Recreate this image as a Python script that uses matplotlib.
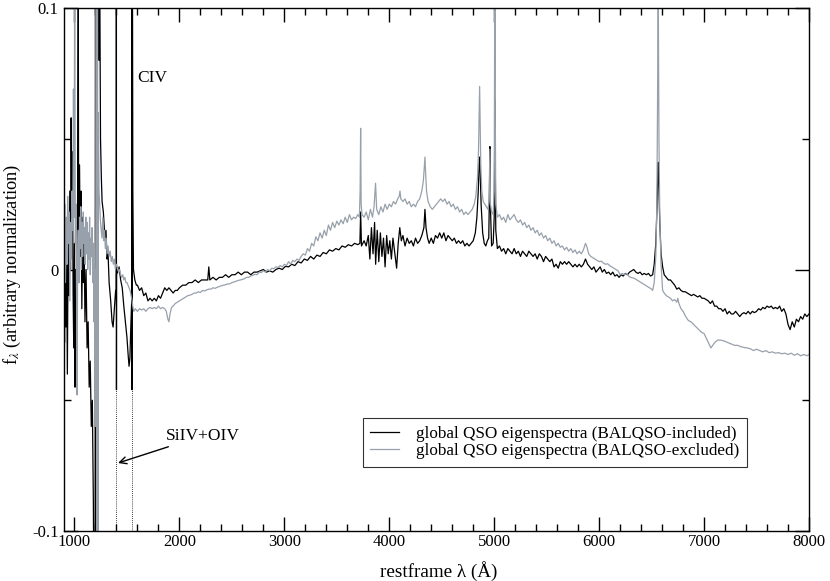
import matplotlib
matplotlib.use("Agg")
import matplotlib.pyplot as plt
from matplotlib.ticker import MultipleLocator

plt.rcParams['font.family'] = ['Liberation Serif', 'DejaVu Serif']
plt.rcParams['mathtext.fontset'] = 'stix'
plt.rcParams['axes.unicode_minus'] = False

# ---------------- data ----------------
wl_incl = [900, 905, 912, 918, 925, 932, 940, 948, 955, 962, 968, 974, 980, 987, 993, 1000,
           1005, 1012, 1020, 1030, 1036, 1040, 1048, 1055, 1062, 1070, 1078, 1085, 1092, 1100,
           1110, 1120, 1130, 1140, 1150, 1160, 1170, 1180, 1188, 1195, 1200, 1207, 1214, 1222,
           1228, 1234, 1240, 1248, 1256, 1263, 1275, 1290, 1300, 1310, 1320, 1330, 1345, 1358,
           1368, 1380, 1392, 1398, 1399, 1400, 1401, 1425, 1440, 1455, 1470, 1485, 1500, 1512,
           1520, 1528, 1538, 1547, 1548.5, 1549, 1551, 1556, 1562, 1575, 1590,
           1600, 1620, 1640, 1660, 1680, 1700, 1720, 1740, 1760, 1780, 1800, 1820, 1840, 1860,
           1880, 1900, 1920, 1940, 1960, 1980, 2000, 2030, 2060, 2090, 2120, 2150, 2180, 2210,
           2240, 2270, 2280, 2290, 2320, 2350, 2380, 2410, 2440, 2470, 2500, 2530, 2560, 2590,
           2620, 2650, 2680, 2710, 2740, 2770, 2800, 2830, 2860, 2890, 2920, 2950, 2980, 3010,
           3040, 3070, 3100, 3130, 3160, 3190, 3220, 3250, 3280, 3310, 3340, 3370, 3400, 3430,
           3460, 3490, 3520, 3550, 3580, 3610, 3640, 3670, 3700, 3720, 3727, 3735, 3760, 3780,
           3800, 3815, 3830, 3845, 3860, 3870, 3885, 3900, 3915, 3930, 3945, 3960, 3975, 3990,
           4005, 4020, 4035, 4050, 4070, 4085, 4100, 4115, 4130, 4150, 4170, 4190, 4210, 4230,
           4250, 4270, 4290, 4310, 4330, 4340, 4350, 4365, 4380, 4400, 4420, 4440, 4460, 4480,
           4500, 4520, 4540, 4560, 4580, 4600, 4620, 4640, 4660, 4680, 4700, 4720, 4740, 4760,
           4780, 4800, 4820, 4835, 4848, 4856, 4861, 4866, 4875, 4890, 4905, 4920, 4935, 4948,
           4955, 4959, 4963, 4975, 4990, 5000, 5004, 5007, 5010, 5015, 5030, 5050, 5070, 5090,
           5110, 5130, 5150, 5170, 5190, 5210, 5230, 5250, 5270, 5290, 5310, 5330, 5350, 5370,
           5390, 5410, 5430, 5450, 5470, 5490, 5510, 5530, 5550, 5570, 5590, 5610, 5630, 5650,
           5670, 5690, 5710, 5730, 5750, 5770, 5790, 5810, 5830, 5850, 5870, 5890, 5910, 5930,
           5950, 5970, 5990, 6010, 6030, 6050, 6070, 6090, 6110, 6130, 6150, 6170, 6190, 6210,
           6230, 6250, 6270, 6290, 6310, 6330, 6350, 6370, 6390, 6410, 6430, 6450, 6470, 6490,
           6510, 6525, 6540, 6550, 6558, 6563, 6568, 6578, 6590, 6605, 6620, 6640, 6660, 6680,
           6700, 6720, 6740, 6760, 6780, 6800, 6820, 6840, 6860, 6880, 6900, 6920, 6940, 6960,
           6980, 7000, 7020, 7040, 7060, 7080, 7100, 7120, 7140, 7160, 7180, 7200, 7220, 7240,
           7260, 7280, 7300, 7320, 7340, 7360, 7380, 7400, 7420, 7440, 7460, 7480, 7500, 7520,
           7540, 7560, 7580, 7600, 7620, 7640, 7660, 7680, 7700, 7720, 7740, 7760, 7780, 7800,
           7820, 7840, 7860, 7880, 7900, 7920, 7940, 7960, 7980, 8000]
f_incl = [-0.005, -0.028, 0.010, -0.022, 0.005, -0.040, 0.015, -0.010, 0.030, 0.000, 0.058,
          0.020, 0.045, -0.010, -0.030, 0.010, -0.045, 0.000, -0.020, 0.030, 0.110, -0.005,
          0.040, 0.005, 0.030, -0.015, 0.020, -0.005, 0.010, -0.020, 0.000, -0.030, -0.020,
          -0.045, -0.035, -0.060, -0.050, -0.090, -0.150, -0.200, 0.150, -0.200, 0.200, 0.300,
          0.150, 0.080, 0.120, 0.050, 0.035, 0.026, 0.022, 0.012, 0.015, 0.004, 0.006, -0.005,
          -0.012, -0.020, -0.022, -0.015, -0.008, -0.010, 0.200, -0.046, -0.002, 0.001, -0.004,
          -0.007, -0.014, -0.020, -0.026, -0.033, -0.037, -0.034, -0.020, -0.010, 0.200, -0.046,
          0.150, 0.030, 0.000, -0.004, -0.006,
          -0.006, -0.008, -0.007, -0.010, -0.009, -0.012, -0.011, -0.012, -0.011, -0.012, -0.010,
          -0.011, -0.009, -0.007, -0.008, -0.007, -0.008, -0.009, -0.008, -0.008, -0.007, -0.006,
          -0.006, -0.005, -0.005, -0.004, -0.005, -0.004, -0.004, -0.004, 0.001, -0.004, -0.003,
          -0.004, -0.003, -0.003, -0.002, -0.003, -0.002, -0.002, -0.001, -0.002, -0.001, -0.001,
          -0.002, -0.001, -0.001, -0.0005, 0.000, -0.001, -0.0005, -0.001, 0.000, 0.0005, 0.000,
          0.0012, 0.001, 0.002, 0.0015, 0.003, 0.0025, 0.004, 0.0035, 0.005, 0.004, 0.0055, 0.005,
          0.0065, 0.006, 0.0075, 0.007, 0.008, 0.0075, 0.009, 0.0085, 0.0095, 0.009, 0.010,
          0.0095, 0.010, 0.022, 0.009, 0.011, 0.009, 0.013, 0.004, 0.016, 0.006, 0.018, 0.002,
          0.015, 0.003, 0.014, 0.005, 0.012, 0.001, 0.013, 0.006, 0.011, 0.004, 0.012, 0.007,
          0.0005, 0.010, 0.016, 0.011, 0.013, 0.009, 0.012, 0.010, 0.011, 0.009, 0.012, 0.010,
          0.011, 0.013, 0.016, 0.023, 0.016, 0.012, 0.010, 0.012, 0.010, 0.013, 0.012, 0.014,
          0.012, 0.014, 0.011, 0.013, 0.012, 0.011, 0.012, 0.010, 0.011, 0.010, 0.011, 0.009,
          0.010, 0.009, 0.010, 0.011, 0.014, 0.020, 0.030, 0.040, 0.043, 0.038, 0.025, 0.014,
          0.010, 0.009, 0.011, 0.012, 0.030, 0.047, 0.025, 0.009, 0.010, 0.020, 0.050, 0.065,
          0.040, 0.015, 0.008, 0.009, 0.007, 0.008, 0.006, 0.008, 0.007, 0.006, 0.008, 0.006,
          0.007, 0.005, 0.007, 0.006, 0.005, 0.007, 0.006, 0.005, 0.006, 0.004, 0.006, 0.005,
          0.003, 0.005, 0.004, 0.003, 0.004, 0.001, 0.002, 0.0005, 0.003, 0.002, 0.003, 0.002,
          0.003, 0.002, 0.001, 0.002, 0.001, 0.002, 0.001, 0.002, 0.004, 0.002, 0.001, 0.000,
          0.001, -0.001, 0.000, 0.001, -0.001, 0.000, -0.0015, -0.001, -0.002, -0.001, -0.0025,
          -0.002, -0.003, -0.002, -0.0025, -0.0015, -0.002, -0.001, -0.0005, 0.000, -0.001,
          -0.0015, -0.001, -0.002, -0.0015, -0.002, -0.0015, -0.0025, -0.002, 0.002, 0.010,
          0.022, 0.035, 0.041, 0.033, 0.018, 0.006, 0.001, -0.002, -0.003, -0.004, -0.004,
          -0.005, -0.006, -0.0075, -0.007, -0.008, -0.0085, -0.0085, -0.009, -0.0095, -0.010,
          -0.0095, -0.010, -0.0105, -0.010, -0.011, -0.011, -0.0115, -0.012, -0.013, -0.012,
          -0.014, -0.014, -0.015, -0.015, -0.016, -0.015, -0.017, -0.016, -0.017, -0.017,
          -0.016, -0.017, -0.018, -0.017, -0.0165, -0.017, -0.016, -0.017, -0.016, -0.0165,
          -0.016, -0.015, -0.0155, -0.0145, -0.015, -0.014, -0.0145, -0.014, -0.015, -0.0145,
          -0.015, -0.014, -0.016, -0.015, -0.017, -0.021, -0.023, -0.020, -0.022, -0.019, -0.020,
          -0.018, -0.019, -0.017, -0.018, -0.017]

wl_excl = [900, 907, 914, 921, 928, 935, 942, 949, 956, 963, 970, 977, 984, 990, 996, 1002,
           1008, 1014, 1020, 1025, 1030, 1036, 1042, 1048, 1054, 1060, 1066, 1072, 1078, 1084,
           1090, 1096, 1102, 1108, 1114, 1120, 1126, 1132, 1138, 1144, 1150, 1156, 1162, 1168,
           1174, 1180, 1186, 1192, 1198, 1204, 1208, 1213, 1218, 1223, 1228, 1234, 1240, 1248,
           1255, 1262, 1270, 1278, 1286, 1294, 1302, 1310, 1320, 1330, 1340, 1350, 1360, 1370,
           1380, 1390, 1400, 1410, 1420, 1430, 1440, 1450, 1460, 1470, 1480, 1490, 1500, 1510,
           1520, 1530, 1540, 1549, 1555, 1565, 1580,
           1600, 1620, 1640, 1660, 1680, 1700, 1720, 1740, 1760, 1780, 1800, 1820, 1840, 1860,
           1875, 1890, 1900, 1910, 1925, 1940, 1960, 1980, 2000, 2020, 2040, 2060, 2080, 2100,
           2120, 2140, 2160, 2180, 2200, 2220, 2240, 2260, 2280, 2300, 2320, 2340, 2360, 2380,
           2400, 2420, 2440, 2460, 2480, 2500, 2520, 2540, 2560, 2580, 2600, 2620, 2640, 2660,
           2680, 2700, 2720, 2740, 2760, 2780, 2800, 2820, 2840, 2860, 2880, 2900, 2920, 2940,
           2960, 2980, 3000, 3020, 3040, 3060, 3080, 3100, 3120, 3140, 3160, 3180, 3200, 3220,
           3240, 3260, 3280, 3300, 3320, 3340, 3360, 3380, 3400, 3420, 3440, 3460, 3480, 3500,
           3520, 3540, 3560, 3580, 3600, 3620, 3640, 3660, 3680, 3700, 3715, 3722, 3727, 3732,
           3740, 3760, 3780, 3800, 3820, 3840, 3855, 3869, 3880, 3900, 3920, 3940, 3960, 3980,
           4000, 4020, 4040, 4060, 4080, 4095, 4102, 4110, 4130, 4150, 4170, 4190, 4210, 4230,
           4250, 4270, 4290, 4310, 4325, 4335, 4340, 4345, 4355, 4370, 4390, 4410, 4430, 4450,
           4470, 4490, 4510, 4530, 4550, 4570, 4590, 4610, 4630, 4650, 4670, 4690, 4710, 4730,
           4750, 4770, 4790, 4810, 4825, 4840, 4850, 4856, 4861, 4866, 4872, 4882, 4895, 4910,
           4925, 4940, 4950, 4959, 4964, 4975, 4990, 5000, 5004, 5007, 5010, 5015, 5030, 5050,
           5070, 5090, 5110, 5130, 5150, 5170, 5190, 5210, 5230, 5250, 5270, 5290, 5310, 5330,
           5350, 5370, 5390, 5410, 5430, 5450, 5470, 5490, 5510, 5530, 5550, 5570, 5590, 5610,
           5630, 5650, 5670, 5690, 5710, 5730, 5750, 5770, 5790, 5810, 5830, 5850, 5870, 5885,
           5900, 5920, 5940, 5960, 5980, 6000, 6020, 6040, 6060, 6080, 6100, 6120, 6140, 6160,
           6180, 6200, 6220, 6240, 6260, 6280, 6300, 6320, 6340, 6360, 6380, 6400, 6420, 6440,
           6460, 6480, 6500, 6510, 6525, 6540, 6550, 6556, 6563, 6570, 6578, 6590, 6605, 6620,
           6640, 6660, 6680, 6700, 6720, 6740, 6750, 6760, 6780, 6800, 6825, 6850, 6875, 6900,
           6925, 6950, 6975, 7000, 7030, 7065, 7100, 7130, 7160, 7200, 7230, 7260, 7290, 7320,
           7350, 7380, 7410, 7440, 7470, 7500, 7530, 7560, 7590, 7620, 7650, 7680, 7710, 7740,
           7770, 7800, 7830, 7860, 7890, 7920, 7950, 7980, 8000]
f_excl = [0.010, 0.025, -0.005, 0.020, 0.002, 0.028, 0.010, 0.022, -0.012, 0.018, 0.004, 0.030,
          0.015, 0.069, 0.020, 0.120, 0.010, 0.025, -0.010, -0.048, 0.005, 0.015, -0.005, 0.020,
          0.008, 0.024, 0.000, 0.018, 0.005, 0.022, 0.010, 0.016, 0.002, 0.020, 0.006, 0.018,
          0.000, 0.014, 0.004, 0.020, -0.002, 0.012, 0.005, 0.016, -0.005, 0.010, -0.020, 0.000,
          -0.060, 0.020, 0.200, -0.200, 0.250, -0.150, 0.060, 0.030, 0.025, 0.018, 0.015, 0.012,
          0.020, 0.011, 0.015, 0.008, 0.012, 0.006, 0.009, 0.005, 0.007, 0.003, 0.005, 0.002,
          0.004, 0.000, 0.002, 0.001, -0.001, 0.000, -0.002, -0.003, -0.002, -0.004, -0.003,
          -0.005, -0.005, -0.006, -0.007, -0.008, -0.010, -0.012, -0.014, -0.016, -0.015,
          -0.016, -0.015, -0.0155, -0.015, -0.016, -0.015, -0.0145, -0.015, -0.0145, -0.015,
          -0.014, -0.015, -0.0145, -0.015, -0.016, -0.019, -0.020, -0.017, -0.0145, -0.014,
          -0.013, -0.0125, -0.012, -0.0115, -0.011, -0.0105, -0.010, -0.0098, -0.0095, -0.009,
          -0.009, -0.0085, -0.0088, -0.008, -0.0082, -0.0078, -0.0075, -0.0075, -0.007, -0.0072,
          -0.0068, -0.0065, -0.0062, -0.006, -0.0058, -0.0055, -0.0055, -0.005, -0.0048,
          -0.0045, -0.0042, -0.004, -0.0038, -0.0035, -0.003, -0.003, -0.0025, -0.0022, -0.0018,
          -0.002, -0.001, -0.0012, -0.0005, -0.001, 0.000, -0.0005, 0.0005, 0.0003, 0.001,
          0.0008, 0.0015, 0.001, 0.002, 0.0015, 0.003, 0.002, 0.0035, 0.003, 0.004, 0.0035,
          0.005, 0.006, 0.0055, 0.008, 0.007, 0.010, 0.009, 0.0125, 0.011, 0.014, 0.012, 0.015,
          0.013, 0.017, 0.015, 0.018, 0.016, 0.0185, 0.017, 0.019, 0.0175, 0.020, 0.018, 0.021,
          0.019, 0.020, 0.0195, 0.021, 0.020, 0.030, 0.054, 0.025, 0.021, 0.020, 0.022, 0.019,
          0.023, 0.020, 0.024, 0.033, 0.023, 0.021, 0.024, 0.022, 0.025, 0.023, 0.025, 0.024,
          0.026, 0.025, 0.027, 0.028, 0.030, 0.027, 0.026, 0.027, 0.025, 0.026, 0.024, 0.025,
          0.024, 0.026, 0.027, 0.030, 0.034, 0.040, 0.043, 0.038, 0.030, 0.026, 0.024, 0.023,
          0.024, 0.025, 0.026, 0.027, 0.026, 0.027, 0.025, 0.026, 0.024, 0.025, 0.023, 0.024,
          0.022, 0.023, 0.021, 0.022, 0.021, 0.022, 0.023, 0.025, 0.028, 0.035, 0.045, 0.058,
          0.070, 0.055, 0.040, 0.030, 0.026, 0.025, 0.024, 0.023, 0.026, 0.046, 0.025, 0.022,
          0.021, 0.030, 0.080, 0.150, 0.060, 0.025, 0.020, 0.021, 0.019, 0.020, 0.018, 0.021,
          0.019, 0.020, 0.021, 0.019, 0.018, 0.019, 0.017, 0.018, 0.016, 0.017, 0.015, 0.016,
          0.014, 0.015, 0.013, 0.014, 0.012, 0.013, 0.011, 0.012, 0.010, 0.011, 0.009, 0.010,
          0.0085, 0.009, 0.0075, 0.0085, 0.007, 0.008, 0.0065, 0.0075, 0.006, 0.007, 0.006,
          0.0075, 0.010, 0.0085, 0.006, 0.005, 0.0045, 0.004, 0.0035, 0.003, 0.0032, 0.0025,
          0.002, 0.0022, 0.0015, 0.001, 0.0005, 0.000, -0.0005, -0.002, -0.0015, -0.002,
          -0.0015, -0.0025, -0.003, -0.0032, -0.0035, -0.004, -0.0045, -0.005, -0.0055, -0.006,
          -0.0065, -0.007, -0.0075, -0.008, -0.005, 0.005, 0.025, 0.060, 0.110, 0.050, 0.020,
          0.002, -0.008, -0.009, -0.010, -0.0105, -0.011, -0.012, -0.0115, -0.0125, -0.011,
          -0.013, -0.015, -0.016, -0.018, -0.0195, -0.020, -0.021, -0.022, -0.023, -0.024,
          -0.0245, -0.027, -0.030, -0.028, -0.027, -0.027, -0.0275, -0.028, -0.0285, -0.029,
          -0.029, -0.0295, -0.0298, -0.030, -0.0303, -0.031, -0.0305, -0.031, -0.0315, -0.031,
          -0.0318, -0.0315, -0.032, -0.0318, -0.0322, -0.032, -0.0325, -0.032, -0.0328, -0.0322,
          -0.033, -0.0325, -0.033, -0.0325]

line_marks = [1400, 1549]          # dotted reference lines (SiIV+OIV, CIV)
label_incl = "global QSO eigenspectra (BALQSO-included)"
label_excl = "global QSO eigenspectra (BALQSO-excluded)"
y_ticks = [-0.1, 0.0, 0.1]
y_tick_labels = ["-0.1", "0", "0.1"]

# ---------------- figure ----------------
fig = plt.figure(figsize=(8.30, 5.81), dpi=100)
ax = fig.add_axes([64/830, 1 - 531/581, 745/830, 523/581])

for xv in line_marks:
    ax.plot([xv, xv], [-0.1, 0.1], color='black', lw=0.6, ls=(0, (1, 1.5)))

ax.plot(wl_incl, f_incl, color='black', lw=0.9, label=label_incl)
ax.plot(wl_excl, f_excl, color='#98a1ab', lw=0.9, label=label_excl)

ax.set_xlim(900, 8000)
ax.set_ylim(-0.1, 0.1)
ax.xaxis.set_major_locator(MultipleLocator(1000))
ax.xaxis.set_minor_locator(MultipleLocator(200))
ax.set_yticks(y_ticks)
ax.set_yticklabels(y_tick_labels)
ax.yaxis.set_minor_locator(MultipleLocator(0.05))
ax.tick_params(which='both', direction='in', top=True, right=True, labelsize=12)
ax.tick_params(which='major', length=10, width=1)
ax.tick_params(which='minor', length=5, width=1)
ax.tick_params(axis='x', pad=2)
ax.tick_params(axis='y', pad=4)
for s in ax.spines.values():
    s.set_linewidth(1.0)

ax.set_xlabel("restframe λ (Å)", fontsize=13.8)
ax.xaxis.set_label_coords(0.503, -0.058)
ax.set_ylabel(r"f$_\lambda$ (arbitrary normalization)", fontsize=13.2)
ax.yaxis.set_label_coords(-0.055, 0.51)

ax.text(1597, 0.0732, "CIV", fontsize=12.5, ha='left', va='center')
ax.annotate("SiIV+OIV", xy=(1415, -0.074), xytext=(1873, -0.0635),
            fontsize=12.5, ha='left', va='center',
            arrowprops=dict(arrowstyle='->', lw=1.0, color='black', shrinkA=1, shrinkB=0))

leg = ax.legend(loc='upper left', bbox_to_anchor=(0.401, 0.216), borderaxespad=0,
                fontsize=12.3, frameon=True, fancybox=False, edgecolor='black',
                handlelength=1.65, handletextpad=1.0, labelspacing=0.08, borderpad=0.45)
leg.get_frame().set_linewidth(0.8)

fig.savefig("out.png", dpi=100)
